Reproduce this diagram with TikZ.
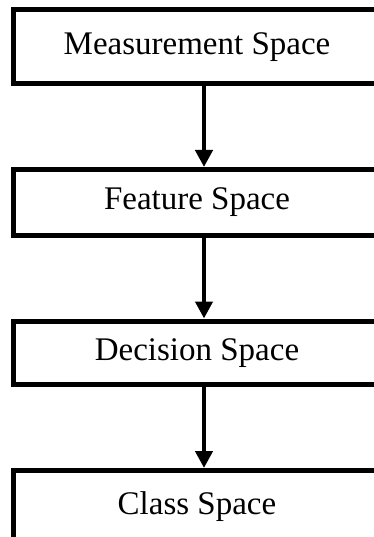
\documentclass[tikz,border=0pt]{standalone}
\usepackage{fontspec}
\setmainfont{Liberation Serif}
\usetikzlibrary{positioning, arrows.meta}
\tikzset{
  spacebox/.style={draw, line width=5pt, outer sep=2.5pt,
    minimum width=367pt, minimum height=65pt, inner sep=0pt,
    font=\fontsize{33}{40}\selectfont},
  flow/.style={-{Triangle[width=17pt,length=17pt]}, line width=4.5pt}
}

\begin{document}
\begin{tikzpicture}[node distance=81pt]
    \useasboundingbox (0,0) rectangle (373pt,-537pt);
    \node[spacebox, minimum height=73.5pt] (meas) at (197pt,-46.75pt) {Measurement Space};
    \node[spacebox, minimum height=65.5pt] (feat) [below=of meas] {Feature Space};
    \node[spacebox, minimum height=63.5pt] (deci) [below=of feat] {Decision Space};
    \node[spacebox, minimum height=73pt] (clas) [below=of deci] {Class Space};

    \draw[flow] ([xshift=7pt]meas.south) -- ([xshift=7pt]feat.north);
    \draw[flow] ([xshift=7pt]feat.south) -- ([xshift=7pt]deci.north);
    \draw[flow] ([xshift=7pt]deci.south) -- ([xshift=7pt]clas.north);
\end{tikzpicture}
\end{document}
